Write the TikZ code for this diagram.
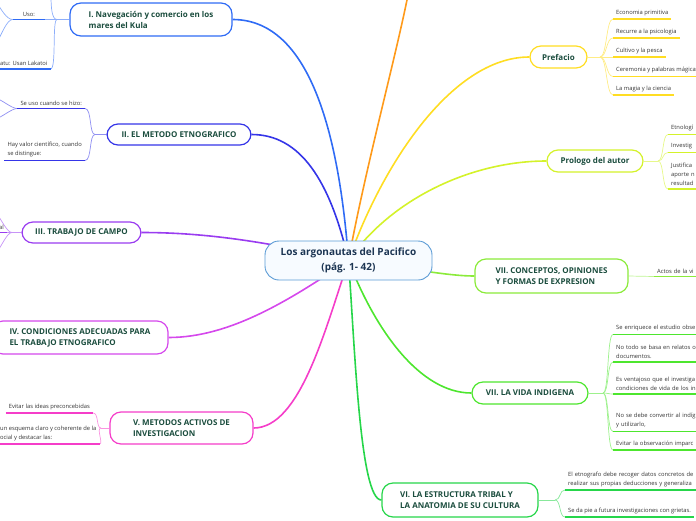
\documentclass[tikz,border=0pt]{standalone}
\usepackage{fontspec}
\setmainfont{Open Sans}
\usetikzlibrary{backgrounds}
\definecolor{titletext}{HTML}{1B4D3E}
\definecolor{roottext}{HTML}{1C3553}
\definecolor{rootline}{HTML}{5B9BD5}
\definecolor{rootfill}{HTML}{F7FBFF}
\definecolor{leaftext}{HTML}{333333}
\definecolor{cI}{HTML}{2F6BF5}
\definecolor{cII}{HTML}{3535E8}
\definecolor{cIII}{HTML}{9A3CF0}
\definecolor{cIV}{HTML}{D548EC}
\definecolor{cV}{HTML}{F53DC9}
\definecolor{cOr}{HTML}{FF9A1A}
\definecolor{cPref}{HTML}{FFDD22}
\definecolor{cProl}{HTML}{D4F22A}
\definecolor{cVIIa}{HTML}{8BEB3A}
\definecolor{cVIIb}{HTML}{4DE62E}
\definecolor{cVI}{HTML}{26D64A}
\begin{document}
\begin{tikzpicture}[x=1pt,y=-1pt]
    \tikzset{
        topic/.style={draw=#1,line width=1.2pt,fill=white,rounded corners=11pt,inner sep=0pt,align=left,text=titletext,font=\fontsize{8}{11}\selectfont\bfseries},
        leaf/.style={inner xsep=3pt,inner ysep=3pt,align=left,text=leaftext,font=\fontsize{5.8}{9}\selectfont,
            append after command={(\tikzlastnode.south west) edge[draw=#1,line width=1.4pt] (\tikzlastnode.south east)}},
        branch/.style={draw=#1,line width=1.6pt},
        twig/.style={draw=#1!55,line width=0.7pt}
    }
        \useasboundingbox (0,0) rectangle (696,520);
        \clip (0,0) rectangle (696,520);
        \node[draw=rootline,line width=0.9pt,fill=rootfill,rounded corners=14pt,minimum width=167pt,minimum height=39pt,align=center,text=roottext,font=\fontsize{10}{15}\selectfont\bfseries] (root) at (348.5,260.5) {Los argonautas del Pacifico\\(pág. 1- 42)};
        \node[topic=cI,minimum width=162pt,minimum height=33pt] (navega) at (151,19.5) {I. Navegación y comercio en los\\mares del Kula};
        \node[topic=cII,minimum width=144pt,minimum height=21pt] (metodo) at (179,134.5) {II. EL METODO ETNOGRAFICO};
        \node[topic=cIII,minimum width=119pt,minimum height=21pt] (campo) at (81.5,232.5) {III. TRABAJO DE CAMPO};
        \node[topic=cIV,minimum width=176pt,minimum height=33pt] (condic) at (80,337.5) {IV. CONDICIONES ADECUADAS PARA\\EL TRABAJO ETNOGRAFICO};
        \node[topic=cV,minimum width=143pt,minimum height=32pt] (activos) at (181.5,428) {V. METODOS ACTIVOS DE\\INVESTIGACION};
        \node[topic=cPref,minimum width=57pt,minimum height=22pt] (prefacio) at (558.5,57) {Prefacio};
        \node[topic=cProl,minimum width=96pt,minimum height=22pt] (prologo) at (595,161) {Prologo del autor};
        \node[topic=cVIIa,minimum width=153pt,minimum height=34pt] (concep) at (551.5,276) {VII. CONCEPTOS, OPINIONES\\Y FORMAS DE EXPRESION};
        \node[topic=cVIIb,minimum width=116pt,minimum height=22pt] (vida) at (530,393) {VII. LA VIDA INDIGENA};
        \node[topic=cVI,minimum width=156pt,minimum height=34pt] (tribal) at (460,500) {VI. LA ESTRUCTURA TRIBAL Y\\LA ANATOMIA DE SU CULTURA};

        \node[leaf=cI,anchor=south east,minimum width=32pt] (uso) at (45,19.5) {Uso:};
        \node[leaf=cI,anchor=south west] (lakatoi) at (-3,69) {atu: Usan Lakatoi};
        \node[leaf=cII,anchor=south east] (seuso) at (85,108.5) {Se uso cuando se hizo:};
        \node[leaf=cII,anchor=south east] (valor) at (85,160.5) {Hay valor científico, cuando\\se distingue:};
        \node[leaf=cIII,anchor=south east] (campoal) at (7,232.5) {al};
        \node[leaf=cV,anchor=south east] (evitar) at (93,413) {Evitar las ideas preconcebidas};
        \node[leaf=cV,anchor=south west] (esquema) at (-3,444) {un esquema claro y coherente de la\\ocial y destacar las:};

        \node[leaf=cPref,anchor=south west] (econ) at (613,19) {Economia primitiva};
        \node[leaf=cPref,anchor=south west] (psico) at (613,38) {Recurre a la psicologia};
        \node[leaf=cPref,anchor=south west] (pesca) at (613,57) {Cultivo y la pesca};
        \node[leaf=cPref,anchor=south west] (cerem) at (613,76.5) {Ceremonia y palabras mágicas};
        \node[leaf=cPref,anchor=south west] (magia) at (613,95) {La magia y la ciencia};
        \node[leaf=cProl,anchor=south west,text width=40pt] (etnol) at (668,134.5) {Etnologí};
        \node[leaf=cProl,anchor=south west,text width=40pt] (invest) at (668,152.5) {Investig};
        \node[leaf=cProl,anchor=south west,text width=40pt] (justif) at (668,189) {Justifica\\aporte n\\resultad};
        \node[leaf=cVIIa,anchor=south west,text width=40pt] (actos) at (654,276.5) {Actos de la vi};
        \node[leaf=cVIIb,anchor=south west,text width=95pt] (enriq) at (613,334.5) {Se enriquece el estudio obse};
        \node[leaf=cVIIb,anchor=south west,text width=95pt] (relatos) at (613,362) {No todo se basa en relatos o\\documentos.};
        \node[leaf=cVIIb,anchor=south west,text width=95pt] (ventaj) at (613,394) {Es ventajoso que el investiga\\condiciones de vida de los in};
        \node[leaf=cVIIb,anchor=south west,text width=95pt] (convert) at (613,431.5) {No se debe convertir al indíg\\y utilizarlo,};
        \node[leaf=cVIIb,anchor=south west,text width=95pt] (imparc) at (613,450) {Evitar la observación imparc};
        \node[leaf=cVI,anchor=south west,text width=150pt] (datos) at (565,490) {El etnografo debe recoger datos concretos de\\realizar sus propias deducciones y generaliza};
        \node[leaf=cVI,anchor=south west] (grietas) at (565,517) {Se da pie a futura investigaciones con grietas.};

        \coordinate (offOr) at (408,-5);
        \coordinate (hI) at (57,19.5);
        \coordinate (offI) at (51,-4);
        \coordinate (offIa) at (-3,3);
        \coordinate (offIb) at (-3,42);
        \coordinate (hII) at (95,134.5);
        \coordinate (offIIa) at (-3,99);
        \coordinate (offIIb) at (-3,118);
        \coordinate (hIII) at (12,232.5);
        \coordinate (offIIIa) at (-3,214);
        \coordinate (offIIIb) at (-3,252);
        \coordinate (hV) at (101,428);
        \coordinate (hPref) at (600,57);
        \coordinate (hProl) at (658,161);
        \coordinate (hVida) at (603,393);
        \coordinate (hVI) at (555,500);

    \begin{pgfonlayer}{background}
        \draw[branch=cI] (navega.east) .. controls (305,19.5) and (338,120) .. (root.center);
        \draw[branch=cII] (metodo.east) .. controls (300,134.5) and (330,180) .. (root.center);
        \draw[branch=cIII] (campo.east) .. controls (200,232.5) and (260,240) .. (root.center);
        \draw[branch=cIV] (condic.east) .. controls (230,337.5) and (290,300) .. (root.center);
        \draw[branch=cV] (activos.east) .. controls (300,428) and (325,330) .. (root.center);
        \draw[branch=cOr] (offOr) .. controls (395,60) and (365,170) .. (root.center);
        \draw[branch=cPref] (prefacio.west) .. controls (450,57) and (380,170) .. (root.center);
        \draw[branch=cProl] (prologo.west) .. controls (470,161) and (390,200) .. (root.center);
        \draw[branch=cVIIa] (concep.west) .. controls (450,276) and (420,270) .. (root.center);
        \draw[branch=cVIIb] (vida.west) .. controls (420,393) and (375,330) .. (root.center);
        \draw[branch=cVI] (tribal.west) .. controls (360,500) and (355,350) .. (root.center);

        \draw[twig=cI] (navega.west) -- (hI);
        \draw[twig=cI] (hI) .. controls +(-6,0) and +(8,0) .. (uso.south east);
        \draw[twig=cI] (hI) .. controls +(-5,0) and +(6,0) .. (lakatoi.south east);
        \draw[twig=cI] (hI) .. controls +(-5,0) and +(0,12) .. (offI);
        \draw[twig=cI] (uso.south west) .. controls +(-6,0) and +(4,6) .. (offIa);
        \draw[twig=cI] (uso.south west) .. controls +(-6,0) and +(4,-6) .. (offIb);
        \draw[twig=cII] (metodo.west) -- (hII);
        \draw[twig=cII] (hII) .. controls +(-6,0) and +(7,0) .. (seuso.south east);
        \draw[twig=cII] (hII) .. controls +(-6,0) and +(7,0) .. (valor.south east);
        \draw[twig=cII] (seuso.south west) .. controls +(-6,0) and +(4,0) .. (offIIa);
        \draw[twig=cII] (seuso.south west) .. controls +(-6,0) and +(4,0) .. (offIIb);
        \draw[twig=cIII] (campo.west) -- (hIII) -- (campoal.south east);
        \draw[twig=cIII] (hIII) .. controls +(-5,0) and +(4,5) .. (offIIIa);
        \draw[twig=cIII] (hIII) .. controls +(-5,0) and +(4,-5) .. (offIIIb);
        \draw[twig=cV] (activos.west) -- (hV);
        \draw[twig=cV] (hV) .. controls +(-5,0) and +(6,0) .. (evitar.south east);
        \draw[twig=cV] (hV) .. controls +(-5,0) and +(4,0) .. (esquema.south east);

        \draw[twig=cPref] (prefacio.east) -- (hPref);
        \draw[twig=cPref] (hPref) .. controls +(7,0) and +(-7,0) .. (econ.south west);
        \draw[twig=cPref] (hPref) .. controls +(7,0) and +(-7,0) .. (psico.south west);
        \draw[twig=cPref] (hPref) -- (pesca.south west);
        \draw[twig=cPref] (hPref) .. controls +(7,0) and +(-7,0) .. (cerem.south west);
        \draw[twig=cPref] (hPref) .. controls +(7,0) and +(-7,0) .. (magia.south west);
        \draw[twig=cProl] (prologo.east) -- (hProl);
        \draw[twig=cProl] (hProl) .. controls +(6,0) and +(-6,0) .. (etnol.south west);
        \draw[twig=cProl] (hProl) .. controls +(6,0) and +(-6,0) .. (invest.south west);
        \draw[twig=cProl] (hProl) .. controls +(6,0) and +(-6,0) .. (justif.south west);
        \draw[twig=cVIIa] (concep.east) -- (actos.south west);
        \draw[twig=cVIIb] (vida.east) -- (hVida);
        \draw[twig=cVIIb] (hVida) .. controls +(6,0) and +(-6,0) .. (enriq.south west);
        \draw[twig=cVIIb] (hVida) .. controls +(6,0) and +(-6,0) .. (relatos.south west);
        \draw[twig=cVIIb] (hVida) .. controls +(6,0) and +(-6,0) .. (ventaj.south west);
        \draw[twig=cVIIb] (hVida) .. controls +(6,0) and +(-6,0) .. (convert.south west);
        \draw[twig=cVIIb] (hVida) .. controls +(6,0) and +(-6,0) .. (imparc.south west);
        \draw[twig=cVI] (tribal.east) -- (hVI);
        \draw[twig=cVI] (hVI) .. controls +(6,0) and +(-6,0) .. (datos.south west);
        \draw[twig=cVI] (hVI) .. controls +(6,0) and +(-6,0) .. (grietas.south west);
    \end{pgfonlayer}
\end{tikzpicture}
\end{document}
